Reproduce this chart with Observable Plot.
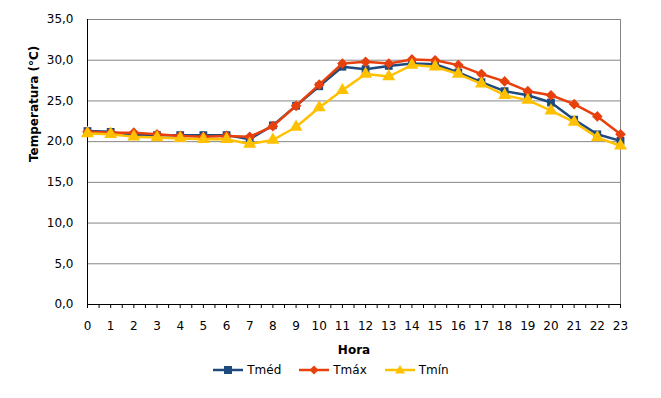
<!DOCTYPE html>
<html>
<head>
<meta charset="utf-8">
<script src="https://cdn.jsdelivr.net/npm/d3@7"></script>
<script src="https://cdn.jsdelivr.net/npm/@observablehq/plot@0.6"></script>
<style>
  html, body { margin: 0; padding: 0; background: #fff; }
  body { width: 661px; height: 398px; overflow: hidden; font-family: "DejaVu Sans", Verdana, sans-serif; }
  #legend { display: flex; justify-content: center; align-items: center; gap: 17px; height: 20px; margin-top: 0px; font-size: 12px; color: #000; }
  #legend .item { display: flex; align-items: center; gap: 3px; }
</style>
</head>
<body>
<div id="chart"></div>
<div id="legend"></div>
<script>
const hours = d3.range(0, 24);
const seriesNames = ["Tméd", "Tmáx", "Tmín"];
const seriesColors = ["#1F4A7E", "#E8400C", "#FFC000"];
const seriesSymbols = ["square", "diamond2", "triangle"];
const tmed = [21.3,21.2,20.8,20.8,20.8,20.8,20.8,20.3,22.0,24.4,26.8,29.2,28.9,29.3,29.6,29.5,28.5,27.3,26.2,25.7,24.8,22.7,20.9,20.1];
const tmax = [21.2,21.1,21.1,20.9,20.7,20.6,20.7,20.6,21.9,24.4,27.0,29.6,29.8,29.6,30.1,30.0,29.4,28.3,27.4,26.2,25.7,24.6,23.1,20.9];
const tmin = [21.0,20.9,20.6,20.5,20.4,20.3,20.3,19.7,20.2,21.8,24.2,26.3,28.3,28.0,29.4,29.2,28.3,27.1,25.7,25.1,23.8,22.4,20.5,19.5];
const yTicks = [0, 5, 10, 15, 20, 25, 30, 35];
const xLabel = "Hora";
const yLabel = "Temperatura (°C)";

const values = [tmed, tmax, tmin];
const data = [];
values.forEach((arr, s) => arr.forEach((v, i) => data.push({hora: hours[i], temp: v, serie: seriesNames[s]})));

const seriesMarks = [];
seriesNames.forEach((name, s) => {
  const sub = data.filter(d => d.serie === name);
  seriesMarks.push(Plot.line(sub, {x: "hora", y: "temp", stroke: seriesColors[s], strokeWidth: 2.5}));
  seriesMarks.push(Plot.dot(sub, {x: "hora", y: "temp", symbol: seriesSymbols[s], fill: seriesColors[s], stroke: "none", r: s === 0 ? 4.4 : 4.8}));
});

const chart = Plot.plot({
  width: 661,
  height: 360,
  marginLeft: 87,
  marginRight: 41,
  marginTop: 19,
  marginBottom: 56,
  style: {fontFamily: "'DejaVu Sans', Verdana, sans-serif", fontSize: "12px", color: "#000", background: "#fff"},
  x: {domain: [hours[0], hours[hours.length - 1]]},
  y: {domain: [yTicks[0], yTicks[yTicks.length - 1]]},
  marks: [
    Plot.gridY(yTicks.slice(1), {stroke: "#868686", strokeOpacity: 1}),
    Plot.frame({stroke: "#868686"}),
    Plot.axisX(d3.range(hours[0], hours[hours.length - 1] + 0.01, 0.5), {tickSize: 4, tickFormat: () => "", stroke: "#000", label: null}),
    Plot.axisX(hours, {tickSize: 0, tickPadding: 17, label: null, fill: "#000"}),
    Plot.axisY(yTicks, {tickSize: 0, tickPadding: 14, tickFormat: d => d.toFixed(1).replace(".", ","), label: null, fill: "#000"}),
    Plot.ruleX([hours[0]], {stroke: "#000"}),
    Plot.ruleY([yTicks[0]], {stroke: "#000"}),
    Plot.text([yLabel], {frameAnchor: "left", dx: -53, rotate: -90, fontWeight: "bold", fontSize: 12, fill: "#000"}),
    Plot.text([xLabel], {frameAnchor: "bottom", dy: 49, fontWeight: "bold", fontSize: 12, fill: "#000"}),
    ...seriesMarks
  ]
});
document.getElementById("chart").appendChild(chart);

const legend = document.getElementById("legend");
const symbolPaths = {
  square: "M-4,-4h8v8h-8z",
  diamond2: "M0,-4.5L4.5,0L0,4.5L-4.5,0z",
  triangle: "M0,-5L5,3.5L-5,3.5z"
};
seriesNames.forEach((name, s) => {
  const item = document.createElement("div");
  item.className = "item";
  item.innerHTML = `<svg width="32" height="12"><line x1="1" x2="31" y1="6" y2="6" stroke="${seriesColors[s]}" stroke-width="2.5"/><path transform="translate(16,6)" d="${symbolPaths[seriesSymbols[s]]}" fill="${seriesColors[s]}"/></svg><span>${name}</span>`;
  legend.appendChild(item);
});
</script>
</body>
</html>
